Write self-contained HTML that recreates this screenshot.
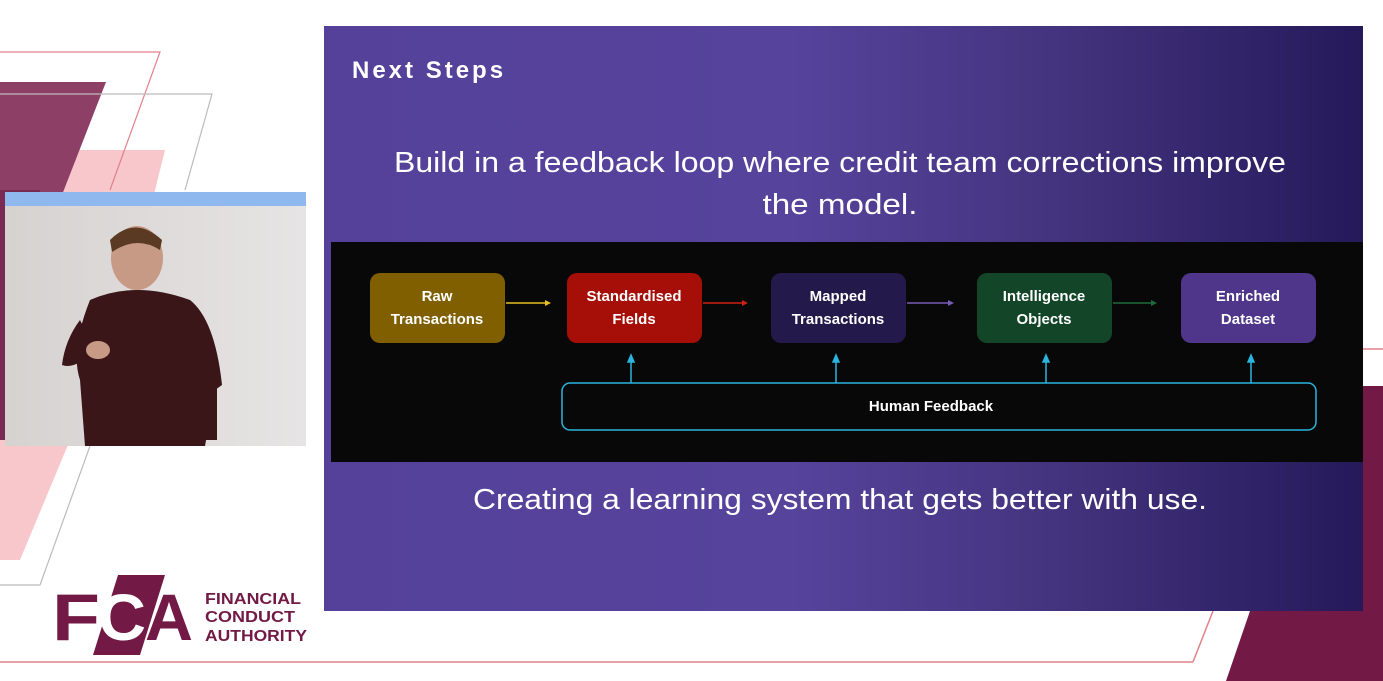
<!DOCTYPE html>
<html><head><meta charset="utf-8"><style>
html,body{margin:0;padding:0;background:#fff;}
svg{display:block;}
</style></head><body>
<svg width="1383" height="681" viewBox="0 0 1383 681" xmlns="http://www.w3.org/2000/svg" font-family="Liberation Sans, sans-serif">
<defs>
<linearGradient id="g" x1="0" x2="1" y1="0" y2="0">
<stop offset="0" stop-color="#55419a"/>
<stop offset="0.45" stop-color="#56439c"/>
<stop offset="0.7" stop-color="#44347f"/>
<stop offset="1" stop-color="#25195a"/>
</linearGradient>
<linearGradient id="v" x1="0" x2="1"><stop offset="0" stop-color="#d6d2d0"/><stop offset="1" stop-color="#e6e4e4"/></linearGradient>
</defs>
<rect width="1383" height="681" fill="#fff"/>
<polygon points="0,150 165,150 130,290 0,290" fill="#f7c7cc"/>
<polygon points="0,82 106,82 60,200 0,200" fill="#8e3f66"/>
<polygon points="0,190 40,190 40,440 0,440" fill="#7a2a52"/>
<polygon points="0,440 70,440 20,560 0,560" fill="#f7c7cc"/>
<polyline points="0,52 160,52 110,190" fill="none" stroke="#e2808a" stroke-width="1.2"/>
<polyline points="0,94 212,94 185,190" fill="none" stroke="#bbb" stroke-width="1.2"/>
<polyline points="90,446 40,585 0,585" fill="none" stroke="#bbb" stroke-width="1.2"/>
<line x1="0" y1="662" x2="1193" y2="662" stroke="#e2808a" stroke-width="1.5"/>
<line x1="1193" y1="662" x2="1213" y2="611" stroke="#e2808a" stroke-width="1.5"/>
<line x1="1363" y1="349" x2="1383" y2="349" stroke="#e2808a" stroke-width="1.5"/>
<polygon points="1363,386 1383,386 1383,681 1226,681 1250,611 1363,611" fill="#721a45"/>
<rect x="5" y="192" width="301" height="14" fill="#8fb8ee"/>
<rect x="5" y="206" width="301" height="240" fill="url(#v)"/>
<ellipse cx="137" cy="258" rx="26" ry="32" fill="#c79a86"/>
<path d="M110,240 Q135,215 162,240 L160,250 Q137,235 112,252Z" fill="#5a3a22"/>
<path d="M90,300 Q135,280 190,300 Q215,320 222,385 L215,390 L205,446 L85,446 L80,380 Q70,350 90,300Z" fill="#3a1618"/>
<path d="M80,320 Q65,340 62,365 Q75,370 95,350Z" fill="#3a1618"/>
<ellipse cx="98" cy="350" rx="12" ry="9" fill="#c79a86"/>
<rect x="205" y="385" width="12" height="55" fill="#3a1618"/>
<text x="52" y="640" font-size="66" font-weight="bold" fill="#721a45" textLength="48" lengthAdjust="spacingAndGlyphs">F</text>
<polygon points="118,575 165,575 140,655 93,655" fill="#721a45"/>
<text x="98" y="640" font-size="66" font-weight="bold" fill="#fff" textLength="48" lengthAdjust="spacingAndGlyphs">C</text>
<text x="145" y="640" font-size="66" font-weight="bold" fill="#721a45" textLength="48" lengthAdjust="spacingAndGlyphs">A</text>
<g font-size="16" fill="#721a45" font-weight="bold">
<text x="205" y="604" textLength="96" lengthAdjust="spacingAndGlyphs">FINANCIAL</text>
<text x="205" y="622" textLength="90" lengthAdjust="spacingAndGlyphs">CONDUCT</text>
<text x="205" y="641" textLength="102" lengthAdjust="spacingAndGlyphs">AUTHORITY</text>
</g>
<rect x="324" y="26" width="1039" height="585" fill="url(#g)"/>
<text x="352" y="78" font-size="24" font-weight="bold" fill="#fff" letter-spacing="3">Next Steps</text>
<text x="840" y="172" font-size="29" fill="#fff" text-anchor="middle" textLength="892" lengthAdjust="spacingAndGlyphs">Build in a feedback loop where credit team corrections improve</text>
<text x="840" y="214" font-size="29" fill="#fff" text-anchor="middle" textLength="155" lengthAdjust="spacingAndGlyphs">the model.</text>
<rect x="331" y="242" width="1032" height="220" fill="#080808"/>
<g font-size="15" font-weight="bold" fill="#fff" text-anchor="middle">
<rect x="370" y="273" width="135" height="70" rx="10" fill="#7f5f00"/>
<text x="437" y="301">Raw</text><text x="437" y="324">Transactions</text>
<rect x="567" y="273" width="135" height="70" rx="10" fill="#a50f08"/>
<text x="634" y="301">Standardised</text><text x="634" y="324">Fields</text>
<rect x="771" y="273" width="135" height="70" rx="10" fill="#231a4b"/>
<text x="838" y="301">Mapped</text><text x="838" y="324">Transactions</text>
<rect x="977" y="273" width="135" height="70" rx="10" fill="#134628"/>
<text x="1044" y="301">Intelligence</text><text x="1044" y="324">Objects</text>
<rect x="1181" y="273" width="135" height="70" rx="10" fill="#4f368a"/>
<text x="1248" y="301">Enriched</text><text x="1248" y="324">Dataset</text>
</g>
<g stroke-width="1.5">
<line x1="506" y1="303" x2="546" y2="303" stroke="#e8c020"/><polygon points="551,303 545,300 545,306" fill="#e8c020"/>
<line x1="703" y1="303" x2="743" y2="303" stroke="#d02010"/><polygon points="748,303 742,300 742,306" fill="#d02010"/>
<line x1="907" y1="303" x2="949" y2="303" stroke="#7a5ab8"/><polygon points="954,303 948,300 948,306" fill="#7a5ab8"/>
<line x1="1113" y1="303" x2="1152" y2="303" stroke="#1f6a3a"/><polygon points="1157,303 1151,300 1151,306" fill="#1f6a3a"/>
</g>
<rect x="562" y="383" width="754" height="47" rx="8" fill="none" stroke="#2ab4de" stroke-width="1.5"/>
<g stroke="#2ab4de" stroke-width="1.5" fill="#2ab4de">
<line x1="631" y1="383" x2="631" y2="360"/><polygon points="631,355 628,362 634,362"/>
<line x1="836" y1="383" x2="836" y2="360"/><polygon points="836,355 833,362 839,362"/>
<line x1="1046" y1="383" x2="1046" y2="360"/><polygon points="1046,355 1043,362 1049,362"/>
<line x1="1251" y1="383" x2="1251" y2="360"/><polygon points="1251,355 1248,362 1254,362"/>
</g>
<text x="931" y="411" font-size="15" font-weight="bold" fill="#fff" text-anchor="middle">Human Feedback</text>
<text x="840" y="509" font-size="29" fill="#fff" text-anchor="middle" textLength="734" lengthAdjust="spacingAndGlyphs">Creating a learning system that gets better with use.</text>
</svg>
</body></html>
